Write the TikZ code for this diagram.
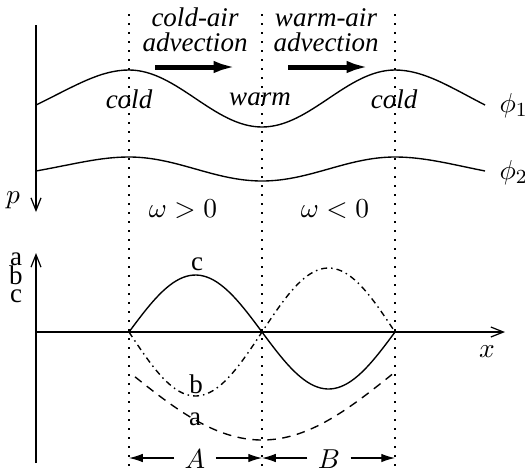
\documentclass[tikz,border=0pt]{standalone}
\usepackage{amsmath, amssymb}
\usepackage{fontspec}
\setmainfont{Liberation Serif}
\usepackage{tikz}
\usetikzlibrary{calc, arrows.meta, positioning}

\begin{document}
\fontsize{10.8}{10}\selectfont
\begin{tikzpicture}[x=0.4pt, y=-0.4pt,
    axis/.style={line width=0.5pt, -{Straight Barb[length=5pt, width=4pt]}},
    curve/.style={line width=0.55pt},
    guide/.style={line width=0.5pt, dash pattern=on 0.8pt off 2.8pt},
    flow/.style={line width=2pt, -{Latex[length=9pt, width=5pt]}},
    dimarrow/.style={line width=0.45pt, -{Latex[length=5.5pt, width=3.4pt]}},
    txt/.style={font=\itshape, align=center}]
    \useasboundingbox (0,0) rectangle (525,473);

    % 1. Đường chấm đứng
    \foreach \xv in {129, 262, 395}
        \draw[guide] (\xv,14) -- (\xv,473);

    % 2. Trục p (phía trên)
    \coordinate (ptop) at (36,25);
    \coordinate (pbot) at (36,212);
    \draw[axis] (ptop) -- (pbot);
    \node (plabel) at (13,200) {$p$};

    % 3. Các mặt đẳng áp phi_1, phi_2
    \draw[curve] (36,105) .. controls (75,86) and (100,70) .. (129,70)
        .. controls (177,70) and (214,127) .. (262,127)
        .. controls (310,127) and (347,70) .. (395,70)
        .. controls (424,70) and (450,87) .. (485,105);
    \draw[curve] (36,171) .. controls (75,164) and (100,157) .. (129,157)
        .. controls (177,157) and (214,181) .. (262,181)
        .. controls (310,181) and (347,157) .. (395,157)
        .. controls (424,157) and (450,164) .. (485,171);
    \node[right] (phi1) at (490,106) {$\phi_1$};
    \node[right] (phi2) at (490,173) {$\phi_2$};

    \node[txt] (cold1) at (129,99) {cold};
    \node[txt] (warm) at (260,99) {warm};
    \node[txt] (cold2) at (394,99) {cold};

    % 4. Bình lưu
    \node[txt] (cadv) at (195,30) {cold-air\\advection};
    \node[txt] (wadv) at (326,30) {warm-air\\advection};
    \coordinate (c1) at (155,67);
    \coordinate (c2) at (236,67);
    \coordinate (w1) at (288,67);
    \coordinate (w2) at (369,67);
    \draw[flow] (c1) -- (c2);
    \draw[flow] (w1) -- (w2);

    \node (wpos) at (183,209) {$\omega > 0$};
    \node (wneg) at (335,209) {$\omega < 0$};

    % 5. Hệ trục phía dưới
    \coordinate (o) at (36,332);
    \coordinate (ybot) at (36,463);
    \coordinate (ytop) at (36,253);
    \coordinate (xend) at (505,332);
    \draw[axis] (ybot) -- (ytop);
    \draw[axis] (o) -- (xend);
    \node (xlabel) at (487,352) {$x$};
    \node[align=center, inner sep=0pt] (abc) at (16,278) {a\\[-2.5pt]b\\[-2.5pt]c};

    % 6. Các đường a, b, c
    \draw[curve] plot[domain=129:395, samples=80]
        (\x, {332 - 57*sin((\x-129)/266*360)});
    \draw[curve, dash pattern=on 2.4pt off 1.6pt on 0.6pt off 1.6pt] plot[domain=129:395, samples=80]
        (\x, {332 + 64*sin((\x-129)/266*360)});
    \draw[curve, dash pattern=on 3.4pt off 2.6pt] plot[domain=135:392, samples=80]
        (\x, {372 + 68*cos((\x-262)/266*180)});
    \node (clabel) at (197,264) {c};
    \node (blabel) at (196,384) {b};
    \node (alabel) at (195,419) {a};

    % 7. Vùng A, B
    \node[inner xsep=4pt] (A) at (195,459) {$A$};
    \node[inner xsep=4pt] (B) at (329,459) {$B$};
    \coordinate (Al) at (129,458);
    \coordinate (Ar) at (262,458);
    \coordinate (Bl) at (262,458);
    \coordinate (Br) at (395,458);
    \draw[dimarrow] (A.west |- Al) -- (Al);
    \draw[dimarrow] (A.east |- Ar) -- (Ar);
    \draw[dimarrow] (B.west |- Bl) -- (Bl);
    \draw[dimarrow] (B.east |- Br) -- (Br);
\end{tikzpicture}
\end{document}
